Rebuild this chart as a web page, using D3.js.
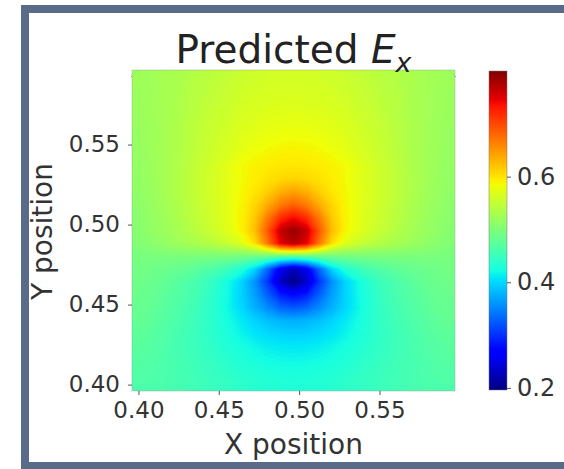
<!DOCTYPE html>
<html>
<head>
<meta charset="utf-8">
<script src="https://cdn.jsdelivr.net/npm/d3@7"></script>
<style>
  body { margin: 0; background: #fff; }
  svg { display: block; font-family: "DejaVu Sans", sans-serif; }
</style>
</head>
<body>
<svg id="chart" width="564" height="469"></svg>
<script>
// axis ticks
var xTicks = [0.40, 0.45, 0.50, 0.55];
var yTicks = [0.40, 0.45, 0.50, 0.55];
var cbTicks = [0.2, 0.4, 0.6];

// extent of the image and of the colour range
var xExtent = [0.396, 0.597];
var yExtent = [0.396, 0.5966];
var colorExtent = [0.196, 0.80];

// predicted Ex, rows from top (y high) to bottom
var fieldRows = [
  [0.524,0.527,0.530,0.534,0.540,0.544,0.548,0.552,0.557,0.560,0.562,0.563,0.563,0.563,0.562,0.560,0.557,0.552,0.548,0.544,0.540,0.534,0.530,0.527,0.524],
  [0.523,0.526,0.530,0.534,0.541,0.545,0.550,0.554,0.560,0.563,0.565,0.566,0.566,0.566,0.565,0.563,0.560,0.554,0.550,0.545,0.541,0.534,0.530,0.526,0.523],
  [0.522,0.526,0.530,0.535,0.542,0.547,0.552,0.557,0.563,0.566,0.568,0.569,0.570,0.569,0.568,0.566,0.563,0.557,0.552,0.547,0.542,0.535,0.530,0.526,0.522],
  [0.521,0.525,0.530,0.535,0.543,0.549,0.555,0.560,0.566,0.570,0.573,0.574,0.575,0.574,0.573,0.570,0.566,0.560,0.555,0.549,0.543,0.535,0.530,0.525,0.521],
  [0.520,0.525,0.530,0.536,0.544,0.551,0.557,0.563,0.570,0.574,0.577,0.579,0.580,0.579,0.577,0.574,0.570,0.563,0.557,0.551,0.544,0.536,0.530,0.525,0.520],
  [0.519,0.524,0.530,0.536,0.545,0.552,0.559,0.566,0.574,0.579,0.583,0.585,0.586,0.585,0.583,0.579,0.574,0.566,0.559,0.552,0.545,0.536,0.530,0.524,0.519],
  [0.518,0.524,0.530,0.537,0.546,0.554,0.562,0.570,0.579,0.585,0.589,0.592,0.593,0.592,0.589,0.585,0.579,0.570,0.562,0.554,0.546,0.537,0.530,0.524,0.518],
  [0.517,0.523,0.530,0.537,0.547,0.556,0.566,0.576,0.586,0.592,0.596,0.599,0.600,0.599,0.596,0.592,0.586,0.576,0.566,0.556,0.547,0.537,0.530,0.523,0.517],
  [0.516,0.522,0.530,0.538,0.548,0.557,0.566,0.576,0.586,0.595,0.603,0.609,0.612,0.609,0.603,0.595,0.586,0.576,0.566,0.557,0.548,0.538,0.530,0.522,0.516],
  [0.514,0.521,0.529,0.538,0.548,0.557,0.567,0.577,0.588,0.600,0.615,0.635,0.645,0.635,0.615,0.600,0.588,0.577,0.567,0.557,0.548,0.538,0.529,0.521,0.514],
  [0.512,0.519,0.527,0.536,0.546,0.556,0.566,0.577,0.590,0.610,0.638,0.668,0.685,0.668,0.638,0.610,0.590,0.577,0.566,0.556,0.546,0.536,0.527,0.519,0.512],
  [0.510,0.517,0.525,0.534,0.544,0.554,0.565,0.577,0.592,0.618,0.668,0.718,0.740,0.718,0.668,0.618,0.592,0.577,0.565,0.554,0.544,0.534,0.525,0.517,0.510],
  [0.508,0.515,0.522,0.531,0.540,0.550,0.561,0.574,0.592,0.625,0.690,0.765,0.790,0.765,0.690,0.625,0.592,0.574,0.561,0.550,0.540,0.531,0.522,0.515,0.508],
  [0.505,0.511,0.517,0.524,0.531,0.538,0.546,0.556,0.572,0.605,0.672,0.750,0.775,0.750,0.672,0.605,0.572,0.556,0.546,0.538,0.531,0.524,0.517,0.511,0.505],
  [0.498,0.498,0.499,0.499,0.499,0.499,0.498,0.497,0.495,0.492,0.487,0.480,0.475,0.480,0.487,0.492,0.495,0.497,0.498,0.499,0.499,0.499,0.499,0.498,0.498],
  [0.493,0.490,0.487,0.483,0.478,0.471,0.462,0.450,0.432,0.400,0.335,0.258,0.226,0.258,0.335,0.400,0.432,0.450,0.462,0.471,0.478,0.483,0.487,0.490,0.493],
  [0.490,0.486,0.480,0.473,0.465,0.455,0.440,0.422,0.398,0.360,0.305,0.235,0.200,0.235,0.305,0.360,0.398,0.422,0.440,0.455,0.465,0.473,0.480,0.486,0.490],
  [0.487,0.483,0.477,0.470,0.462,0.451,0.437,0.420,0.398,0.368,0.330,0.290,0.275,0.290,0.330,0.368,0.398,0.420,0.437,0.451,0.462,0.470,0.477,0.483,0.487],
  [0.484,0.480,0.474,0.467,0.459,0.448,0.435,0.419,0.400,0.378,0.355,0.333,0.325,0.333,0.355,0.378,0.400,0.419,0.435,0.448,0.459,0.467,0.474,0.480,0.484],
  [0.481,0.477,0.471,0.464,0.456,0.447,0.436,0.424,0.411,0.398,0.387,0.380,0.377,0.380,0.387,0.398,0.411,0.424,0.436,0.447,0.456,0.464,0.471,0.477,0.481],
  [0.478,0.474,0.468,0.461,0.454,0.446,0.437,0.427,0.417,0.408,0.401,0.397,0.395,0.397,0.401,0.408,0.417,0.427,0.437,0.446,0.454,0.461,0.468,0.474,0.478],
  [0.475,0.471,0.466,0.460,0.454,0.447,0.440,0.432,0.425,0.419,0.414,0.411,0.410,0.411,0.414,0.419,0.425,0.432,0.440,0.447,0.454,0.460,0.466,0.471,0.475],
  [0.472,0.469,0.465,0.460,0.455,0.449,0.443,0.437,0.431,0.426,0.422,0.420,0.419,0.420,0.422,0.426,0.431,0.437,0.443,0.449,0.455,0.460,0.465,0.469,0.472],
  [0.469,0.467,0.464,0.460,0.456,0.452,0.447,0.442,0.437,0.433,0.430,0.428,0.427,0.428,0.430,0.433,0.437,0.442,0.447,0.452,0.456,0.460,0.464,0.467,0.469],
  [0.466,0.465,0.463,0.460,0.457,0.453,0.449,0.445,0.441,0.437,0.435,0.433,0.432,0.433,0.435,0.437,0.441,0.445,0.449,0.453,0.457,0.460,0.463,0.465,0.466]
];

// matplotlib jet breakpoints
var jetT = [0, 0.11, 0.125, 0.34, 0.35, 0.375, 0.64, 0.65, 0.66, 0.89, 0.91, 1];
var jetColors = ["#000080","#0000ff","#0000ff","#00dbff","#00e5f7","#15ffe2",
                 "#efff08","#f7f500","#ffec00","#ff1300","#e80000","#800000"];

var svg = d3.select("#chart");
var defs = svg.append("defs");

// frame
svg.append("rect")
    .attr("x", 25).attr("y", 9)
    .attr("width", 580).attr("height", 457)
    .attr("fill", "#fff")
    .attr("stroke", "#5a6b89")
    .attr("stroke-width", 8);

var plot = {left: 132, top: 70, right: 455, bottom: 391};

var x = d3.scaleLinear().domain(xExtent).range([plot.left, plot.right]);
var y = d3.scaleLinear().domain(yExtent).range([plot.bottom, plot.top]);

var color = d3.scaleLinear()
    .domain(jetT.map(t => colorExtent[0] + t * (colorExtent[1] - colorExtent[0])))
    .range(jetColors)
    .clamp(true);

var nx = fieldRows[0].length, ny = fieldRows.length;
var values = [];
fieldRows.forEach(r => r.forEach(v => values.push(v)));

// edge colour under the contours so the grid corners are filled
var edgeGrad = defs.append("linearGradient")
    .attr("id", "edge")
    .attr("x1", 0).attr("y1", 0).attr("x2", 0).attr("y2", 1);
edgeGrad.selectAll("stop")
  .data(fieldRows)
  .join("stop")
    .attr("offset", (d, j) => (j + 0.5) / ny)
    .attr("stop-color", d => color(d[0]));

svg.append("rect")
    .attr("x", plot.left).attr("y", plot.top)
    .attr("width", plot.right - plot.left).attr("height", plot.bottom - plot.top)
    .attr("fill", "url(#edge)");

var contours = d3.contours()
    .size([nx, ny])
    .thresholds(d3.range(0.19, 0.805, 0.003))(values);

var gx = d3.scaleLinear().domain([0, nx]).range([plot.left, plot.right]);
var gy = d3.scaleLinear().domain([0, ny]).range([plot.top, plot.bottom]);
var proj = d3.geoTransform({
  point: function(px, py) { this.stream.point(gx(px), gy(py)); }
});

svg.append("g")
  .selectAll("path")
  .data(contours)
  .join("path")
    .attr("d", d3.geoPath(proj))
    .attr("fill", d => color(d.value));

svg.append("rect")
    .attr("x", plot.left).attr("y", plot.top)
    .attr("width", plot.right - plot.left).attr("height", plot.bottom - plot.top)
    .attr("fill", "none")
    .attr("stroke", "#999")
    .attr("stroke-opacity", 0.5)
    .attr("stroke-width", 0.8);

// axes
var xAxis = svg.append("g")
    .attr("transform", `translate(0,${plot.bottom})`)
    .call(d3.axisBottom(x).tickValues(xTicks).tickFormat(d3.format(".2f")).tickSize(4).tickPadding(7));
var yAxis = svg.append("g")
    .attr("transform", `translate(${plot.left},0)`)
    .call(d3.axisLeft(y).tickValues(yTicks).tickFormat(d3.format(".2f")).tickSize(4).tickPadding(8));

[xAxis, yAxis].forEach(a => {
  a.select(".domain").remove();
  a.selectAll("line").attr("stroke", "#555");
  a.selectAll("text")
    .attr("font-family", "DejaVu Sans")
    .attr("font-size", 23)
    .attr("fill", "#333");
});

// colour bar
var cb = {left: 489, right: 507, top: 71, bottom: 390};
var grad = defs.append("linearGradient")
    .attr("id", "jet")
    .attr("x1", 0).attr("y1", 1).attr("x2", 0).attr("y2", 0);
grad.selectAll("stop")
  .data(jetT)
  .join("stop")
    .attr("offset", d => d)
    .attr("stop-color", (d, i) => jetColors[i]);

svg.append("rect")
    .attr("x", cb.left).attr("y", cb.top)
    .attr("width", cb.right - cb.left).attr("height", cb.bottom - cb.top)
    .attr("fill", "url(#jet)")
    .attr("stroke", "#777")
    .attr("stroke-opacity", 0.6)
    .attr("stroke-width", 0.8);

var cbScale = d3.scaleLinear().domain(colorExtent).range([cb.bottom, cb.top]);
var cbAxis = svg.append("g")
    .attr("transform", `translate(${cb.right},0)`)
    .call(d3.axisRight(cbScale).tickValues(cbTicks).tickFormat(d3.format(".1f")).tickSize(4).tickPadding(6));
cbAxis.select(".domain").remove();
cbAxis.selectAll("line").attr("stroke", "#555");
cbAxis.selectAll("text")
    .attr("font-family", "DejaVu Sans")
    .attr("font-size", 24)
    .attr("fill", "#333");

// labels
svg.append("text")
    .attr("x", (plot.left + plot.right) / 2)
    .attr("y", 454)
    .attr("text-anchor", "middle")
    .attr("font-size", 28)
    .attr("fill", "#333")
    .text("X position");

svg.append("text")
    .attr("transform", `translate(52,${(plot.top + plot.bottom) / 2 + 1}) rotate(-90)`)
    .attr("text-anchor", "middle")
    .attr("font-size", 28)
    .attr("fill", "#333")
    .text("Y position");

var title = svg.append("text")
    .attr("x", (plot.left + plot.right) / 2)
    .attr("y", 63)
    .attr("text-anchor", "middle")
    .attr("font-size", 39)
    .attr("fill", "#222");
title.append("tspan").text("Predicted ");
title.append("tspan").attr("font-style", "italic").text("E");
title.append("tspan").attr("font-style", "italic").attr("font-size", 27).attr("dy", 9).text("x");
</script>
</body>
</html>
